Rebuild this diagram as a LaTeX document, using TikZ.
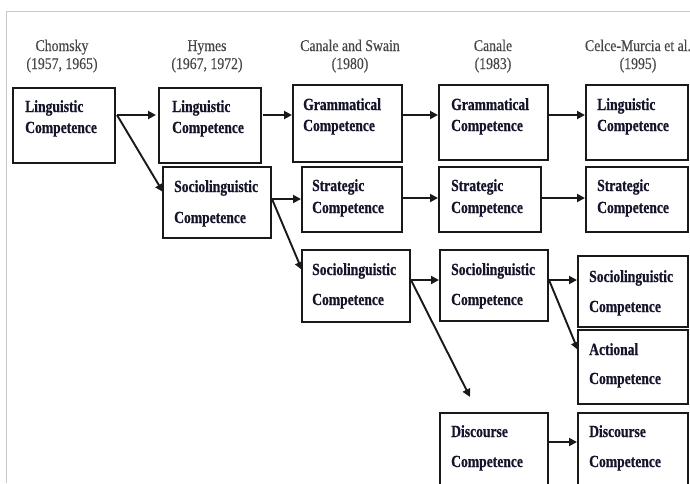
\documentclass[tikz,border=0pt]{standalone}
\usepackage{fontspec}
\setmainfont{Liberation Serif}
% narrow, tall serif faces for headings and box texts
\newfontfamily\headfont[FakeStretch=0.84, FakeBold=0.25]{Liberation Serif}
\newfontfamily\boxfont[FakeStretch=0.80, BoldFeatures={FakeBold=0.6}]{Liberation Serif}
\usetikzlibrary{arrows.meta,fit}
\definecolor{headgray}{HTML}{454545}
\definecolor{boxink}{HTML}{14142A}
\definecolor{framegray}{HTML}{C8C8C8}
\begin{document}
\begin{tikzpicture}[x=1pt,y=-1pt,
  compbox/.style={draw=black!90, line width=2.2pt, inner sep=0pt, outer sep=0pt},
  lbl/.style={inner sep=0pt, anchor=base west, text=boxink,
    font=\boxfont\fontsize{17}{19}\selectfont\bfseries},
  head/.style={inner sep=0pt, anchor=base, text=headgray,
    font=\headfont\fontsize{16.4}{18}\selectfont},
  arr/.style={draw=black!90, line width=1.9pt,
    -{Triangle[length=8pt,width=8pt]}, shorten >=1pt},
  frame/.style={draw=framegray, line width=0.9pt}]
\useasboundingbox (0,0) rectangle (690,483);
\clip (0,0) rectangle (690,483);

% page frame
\draw[frame] (6,483) -- (6,11) -- (690,11);

% column headings
\node[head] (h1a) at (62,51) {Chomsky};
\node[head] (h1b) at (62,69) {(1957, 1965)};
\node[head] (h2a) at (207,51) {Hymes};
\node[head] (h2b) at (207,69) {(1967, 1972)};
\node[head] (h3a) at (350,51) {Canale and Swain};
\node[head] (h3b) at (350,69) {(1980)};
\node[head] (h4a) at (493,51) {Canale};
\node[head] (h4b) at (493,69) {(1983)};
\node[head] (h5a) at (638,51) {Celce-Murcia et al.};
\node[head] (h5b) at (638,69) {(1995)};

% competence boxes
\node[compbox, fit={(13,88) (115,163)}] (chomsky) {};
\node[compbox, fit={(159,88) (261,163)}] (hLing) {};
\node[compbox, fit={(163,167) (271,238)}] (hSoc) {};
\node[compbox, fit={(293,85) (402,162)}] (csGram) {};
\node[compbox, fit={(302,167) (402,232)}] (csStrat) {};
\node[compbox, fit={(302,250) (410,322)}] (csSoc) {};
\node[compbox, fit={(439,85) (548,160)}] (cGram) {};
\node[compbox, fit={(439,167) (541,232)}] (cStrat) {};
\node[compbox, fit={(440,250) (548,321)}] (cSoc) {};
\node[compbox, fit={(440,413) (548,500)}] (cDisc) {};
\node[compbox, fit={(586,85) (688,160)}] (cmLing) {};
\node[compbox, fit={(586,167) (688,232)}] (cmStrat) {};
\node[compbox, fit={(578,256) (688,327)}] (cmSoc) {};
\node[compbox, fit={(578,330) (688,404)}] (cmAct) {};
\node[compbox, fit={(578,413) (688,500)}] (cmDisc) {};

% box texts
\node[lbl] at ([shift={(12,24)}]chomsky.north west) {Linguistic};
\node[lbl] at ([shift={(12,45)}]chomsky.north west) {Competence};
\node[lbl] at ([shift={(13,24)}]hLing.north west) {Linguistic};
\node[lbl] at ([shift={(13,45)}]hLing.north west) {Competence};
\node[lbl] at ([shift={(11,25)}]hSoc.north west) {Sociolinguistic};
\node[lbl] at ([shift={(11,56)}]hSoc.north west) {Competence};
\node[lbl] at ([shift={(10,25)}]csGram.north west) {Grammatical};
\node[lbl] at ([shift={(10,46)}]csGram.north west) {Competence};
\node[lbl] at ([shift={(10,24)}]csStrat.north west) {Strategic};
\node[lbl] at ([shift={(10,46)}]csStrat.north west) {Competence};
\node[lbl] at ([shift={(10,25)}]csSoc.north west) {Sociolinguistic};
\node[lbl] at ([shift={(10,55)}]csSoc.north west) {Competence};
\node[lbl] at ([shift={(12,25)}]cGram.north west) {Grammatical};
\node[lbl] at ([shift={(12,46)}]cGram.north west) {Competence};
\node[lbl] at ([shift={(12,24)}]cStrat.north west) {Strategic};
\node[lbl] at ([shift={(12,46)}]cStrat.north west) {Competence};
\node[lbl] at ([shift={(11,25)}]cSoc.north west) {Sociolinguistic};
\node[lbl] at ([shift={(11,55)}]cSoc.north west) {Competence};
\node[lbl] at ([shift={(11,24)}]cDisc.north west) {Discourse};
\node[lbl] at ([shift={(11,54)}]cDisc.north west) {Competence};
\node[lbl] at ([shift={(11,25)}]cmLing.north west) {Linguistic};
\node[lbl] at ([shift={(11,46)}]cmLing.north west) {Competence};
\node[lbl] at ([shift={(11,24)}]cmStrat.north west) {Strategic};
\node[lbl] at ([shift={(11,46)}]cmStrat.north west) {Competence};
\node[lbl] at ([shift={(11,26)}]cmSoc.north west) {Sociolinguistic};
\node[lbl] at ([shift={(11,56)}]cmSoc.north west) {Competence};
\node[lbl] at ([shift={(11,25)}]cmAct.north west) {Actional};
\node[lbl] at ([shift={(11,54)}]cmAct.north west) {Competence};
\node[lbl] at ([shift={(11,24)}]cmDisc.north west) {Discourse};
\node[lbl] at ([shift={(11,54)}]cmDisc.north west) {Competence};

% arrow start points on the right-hand sides of the boxes
\coordinate (a1) at ([shift={(2,27)}]chomsky.north east);
\coordinate (a2) at ([shift={(2,27)}]hLing.north east);
\coordinate (a3) at ([shift={(1,32)}]hSoc.north east);
\coordinate (a4) at ([shift={(1,30)}]csGram.north east);
\coordinate (a5) at ([shift={(1,30)}]cGram.north east);
\coordinate (a6) at ([shift={(1,31)}]csStrat.north east);
\coordinate (a7) at ([shift={(1,31)}]cStrat.north east);
\coordinate (a8) at ([shift={(1,30)}]csSoc.north east);
\coordinate (a9) at ([shift={(1,30)}]cSoc.north east);
\coordinate (a10) at ([shift={(1,29)}]cDisc.north east);
\coordinate (dEnd) at ([shift={(30,-16)}]cDisc.north west);

% connectors
\draw[arr, shorten >=3pt] (a1) -- (a1 -| hLing.west);
\draw[arr, shorten >=0pt] (a1) -- ([shift={(0,25)}]hSoc.north west);
\draw[arr] (a2) -- (a2 -| csGram.west);
\draw[arr] (a3) -- (a3 -| csStrat.west);
\draw[arr, shorten >=0pt] (a3) -- ([shift={(0,20)}]csSoc.north west);
\draw[arr] (a4) -- (a4 -| cGram.west);
\draw[arr] (a5) -- (a5 -| cmLing.west);
\draw[arr] (a6) -- (a6 -| cStrat.west);
\draw[arr] (a7) -- (a7 -| cmStrat.west);
\draw[arr] (a8) -- (a8 -| cSoc.west);
\draw[arr, shorten >=0pt] (a8) -- (dEnd);
\draw[arr] (a9) -- (a9 -| cmSoc.west);
\draw[arr, shorten >=0pt] (a9) -- ([shift={(0,20)}]cmAct.north west);
\draw[arr] (a10) -- (a10 -| cmDisc.west);
\end{tikzpicture}
\end{document}
